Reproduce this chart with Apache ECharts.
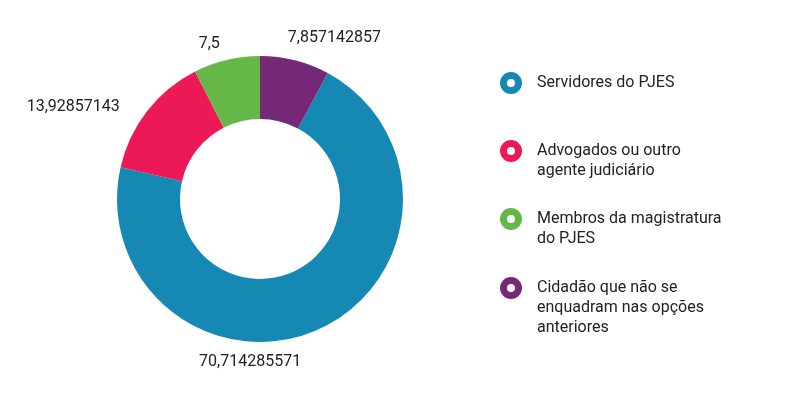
<!DOCTYPE html>
<html><head><meta charset="utf-8">
<script src="https://cdn.jsdelivr.net/npm/echarts@6/dist/echarts.min.js"></script>
<style>html,body{margin:0;padding:0;background:#fff}#c{width:787px;height:393px}</style>
</head><body><div id="c"></div>
<script>
const categories = ['Servidores do PJES', 'Advogados ou outro agente judiciário', 'Membros da magistratura do PJES', 'Cidadão que não se enquadram nas opções anteriores'];
const legendText = ['Servidores do PJES', 'Advogados ou outro\nagente judiciário', 'Membros da magistratura\ndo PJES', 'Cidadão que não se\nenquadram nas opções\nanteriores'];
const values = [70.714285571, 13.92857143, 7.5, 7.857142857];
const colors = ['#1589B4', '#EC1957', '#65B847', '#752877'];

const total = values.reduce((a, b) => a + b, 0);
const startAngle = 90 - values[3] / total * 360;
const legendCenters = [82, 151, 219, 288];
const labelShift = [[-130, 22], [-13, 3], [1, -4], [-15, -11]];
const legends = categories.map((name, i) => {
  const n = legendText[i].split('\n').length;
  // blank lines before the text so the icon lines up with the first text line
  const padded = '\u00a0\n'.repeat(n - 1) + legendText[i];
  return {
    orient: 'vertical', left: 500, top: legendCenters[i] - (2 * n - 1) * 10,
    padding: 0,
    icon: 'circle', itemWidth: 42, itemHeight: 15,
    itemStyle: { color: '#fff', borderColor: colors[i], borderWidth: 7 },
    selectedMode: false,
    data: [name],
    formatter: () => padded,
    textStyle: { fontFamily: 'Roboto', fontSize: 16, color: '#222', lineHeight: 20 }
  };
});

const chart = echarts.init(document.getElementById('c'), null, { renderer: 'canvas' });
chart.setOption({
  animation: false,
  color: colors,
  legend: legends,
  series: [{
    type: 'pie',
    center: [260, 199],
    radius: [80, 143],
    startAngle: startAngle,
    clockwise: true,
    avoidLabelOverlap: false,
    label: {
      show: true, position: 'outside',
      fontFamily: 'Roboto', fontSize: 16, color: '#222',
      formatter: p => String(p.value).replace('.', ',')
    },
    labelLine: { show: false, length: 12, length2: 0 },
    labelLayout: p => ({ dx: labelShift[p.dataIndex][0], dy: labelShift[p.dataIndex][1] }),
    emphasis: { disabled: true },
    data: categories.map((name, i) => ({ name: name, value: values[i] }))
  }]
});
</script></body></html>
